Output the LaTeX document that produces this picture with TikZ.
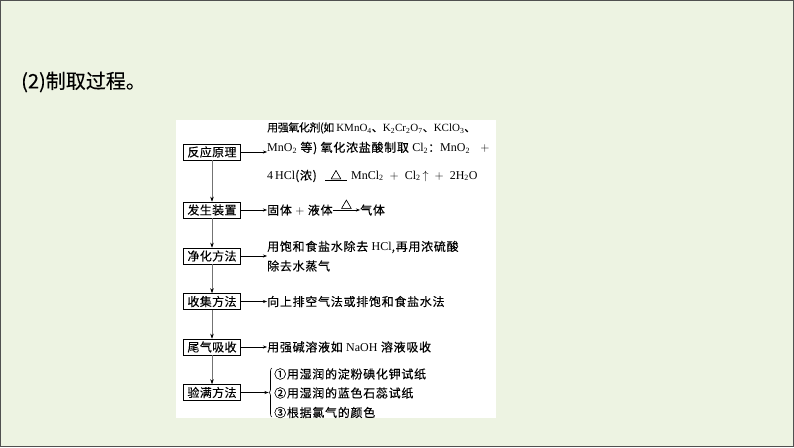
\documentclass[tikz,border=0pt]{standalone}
\usepackage{fontspec}
\setmainfont{Noto Sans CJK SC}[FakeBold=0.15]
\newfontfamily\lat{Liberation Serif}
\usetikzlibrary{arrows.meta,decorations.pathreplacing}
\definecolor{slidebg}{RGB}{237,243,226}
\definecolor{slideline}{RGB}{80,80,80}
\newcommand{\chem}[1]{{\lat #1}}
\newcommand{\lo}[1]{\textsubscript{#1}}
\begin{document}
\begin{tikzpicture}[
        x=1pt, y=-1pt,
        font=\fontsize{12}{14}\selectfont\addfontfeature{LetterSpace=6}
    ]
    \tikzset{
        stepbox/.style = {draw=black, line width=0.6pt, fill=white, inner sep=0pt,
                          minimum width=57pt, minimum height=16pt,
                          font=\fontsize{12}{14}\selectfont\addfontfeature{LetterSpace=3}},
        txt/.style = {anchor=west, inner sep=0pt},
        harr/.style = {-{Stealth[length=4pt,width=3pt]}, line width=0.5pt},
        varr/.style = {-{Stealth[length=5pt,width=3.5pt,black]}, line width=0.5pt, draw=black!55},
        heatmark/.style = {above=1pt, inner sep=0pt, font=\fontsize{11}{12}\selectfont},
    }
    % slide
    \fill[slidebg] (0,0) rectangle (794,447);
    \draw[slideline] (0.5,0.5) rectangle (793.5,446.5);
    \fill[white] (176,120) rectangle (496,418);
    \node[txt, font=\fontsize{20}{24}\selectfont] (title) at (21,82) {(2)制取过程。};
    %
    \node[stepbox] at (212,152) (yuanli) {反应原理};
    \node[stepbox] at (212,210) (fasheng) {发生装置};
    \node[stepbox] at (212,256) (jinghua) {净化方法};
    \node[stepbox] at (212,301.5) (shouji) {收集方法};
    \node[stepbox] at (212,347) (weiqi) {尾气吸收};
    \node[stepbox] at (212,392.5) (yanman) {验满方法};
    %
    \draw[varr] (yuanli) -- (fasheng);
    \draw[varr] (fasheng) -- (jinghua);
    \draw[varr] (jinghua) -- (shouji);
    \draw[varr] (shouji) -- (weiqi);
    \draw[varr] (weiqi) -- (yanman);
    %
    \node[txt, font=\fontsize{11}{13}\selectfont\addfontfeature{LetterSpace=-4}] at (267,128) (r1)
        {用强氧化剂(如 \chem{KMnO\lo4}、\chem{K\lo2Cr\lo2O\lo7}、\chem{KClO\lo3}、};
    \node[txt] at (267,148) (r2) {\chem{MnO\lo2}\ 等)\ 氧化浓盐酸制取\ \chem{Cl\lo2}：\chem{MnO\lo2}\ \ \ $+$};
    \node[txt] at (267,176) (r3) {\chem{4\,HCl}(浓)};
    \node[txt] at (351,176) (r4) {\chem{MnCl\lo2}\enskip $+$\enskip \chem{Cl\lo2}\,$\uparrow$\enskip $+$\enskip \chem{2H\lo2O}};
    \coordinate (eqa) at (325,180.5);
    \coordinate (eqb) at (347,180.5);
    \draw[line width=0.6pt] (eqa) -- node[heatmark] (heat) {△} (eqb);
    \draw[harr] (yuanli) -- (yuanli -| r2.west);
    %
    \node[txt] at (267,210) (g1) {固体\ $+$\ 液体};
    \node[txt] at (360,210) (g2) {气体};
    \draw[harr] (g1) -- node[heatmark] (heat2) {△} (g2);
    \draw[harr] (fasheng) -- (g1);
    %
    \node[txt] at (267,247) (j1) {用饱和食盐水除去 \chem{HCl},再用浓硫酸};
    \node[txt] at (267,266) (j2) {除去水蒸气};
    \draw[harr] (jinghua) -- (jinghua -| j1.west);
    %
    \node[txt] at (267,301.5) (s1) {向上排空气法或排饱和食盐水法};
    \draw[harr] (shouji) -- (s1);
    %
    \node[txt] at (267,347) (w1) {用强碱溶液如 \chem{NaOH} 溶液吸收};
    \draw[harr] (weiqi) -- (w1);
    %
    \coordinate (brbot) at (272,417);
    \coordinate (brtop) at (272,368);
    \coordinate (brtip) at (268.5,392.5);
    \draw[decorate, decoration={brace, amplitude=3pt}, line width=0.6pt] (brbot) -- (brtop);
    \node[txt] at (274,374) (m1) {①用湿润的淀粉碘化钾试纸};
    \node[txt] at (274,393) (m2) {②用湿润的蓝色石蕊试纸};
    \node[txt] at (274,412.5) (m3) {③根据氯气的颜色};
    \draw[harr] (yanman) -- (brtip);
\end{tikzpicture}
\end{document}
